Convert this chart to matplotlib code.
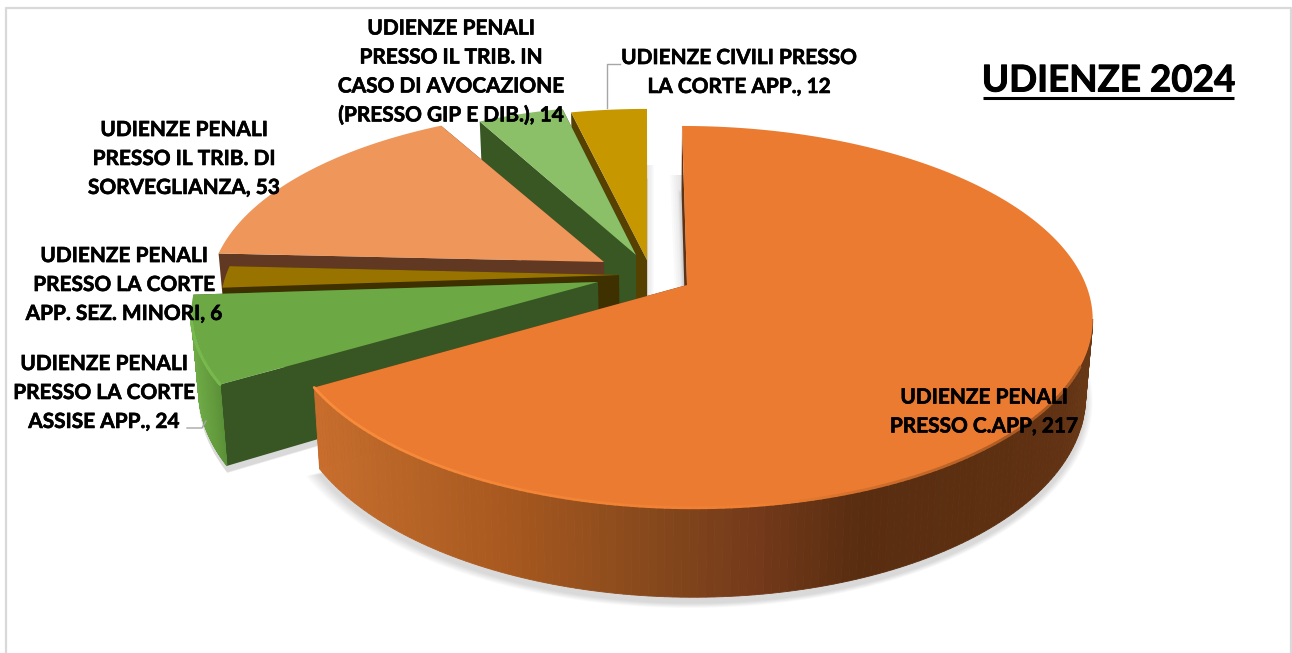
import numpy as np
import matplotlib
matplotlib.use("Agg")
import matplotlib.pyplot as plt
import matplotlib.patheffects as pe
from matplotlib.collections import LineCollection
from matplotlib.colors import to_rgb

# ---- data ----
categories = ["UDIENZE PENALI\nPRESSO C.APP",
              "UDIENZE PENALI\nPRESSO LA CORTE\nASSISE APP.",
              "UDIENZE PENALI\nPRESSO LA CORTE\nAPP. SEZ. MINORI",
              "UDIENZE PENALI\nPRESSO IL TRIB. DI\nSORVEGLIANZA",
              "UDIENZE PENALI\nPRESSO IL TRIB. IN\nCASO DI AVOCAZIONE\n(PRESSO GIP E DIB.)",
              "UDIENZE CIVILI PRESSO\nLA CORTE APP."]
values = [217, 24, 6, 53, 14, 12]
title = "UDIENZE 2024"

# ---- layout / style ----
apex_x = [687, 598, 619, 604, 636, 647]
apex_y = [285, 282, 275, 262, 255, 260]
scale_x = [0.995, 1.0, 0.98, 0.97, 0.93, 0.96]
scale_y = [1.0, 1.0, 1.0, 0.96, 0.94, 0.95]
shear = [5.8, 0, 0, 0, 0, 0]
top_col = ["#EB7B30", "#6CA944", "#997300", "#EF965A", "#8BBF68", "#C79700"]
cut_col = ["#5E3214", "#375623", "#3F3000", "#613923", "#385723", "#574100"]
label_cx = [984, 104, 124, 184, 451, 739]
label_cy = [412, 393, 285, 159, 72, 72.5]
A, B, K, DEPTH = 401.0, 185.6, 0.167, 74.5
VANISH_X, TAPER = 650.0, 0.016
ORANGE_RIM = [(313, "#C96E2D"), (351, "#C06A2B"), (504, "#A8591F"), (657, "#85481C"),
              (759, "#73391A"), (861, "#592D10"), (963, "#5C2F11"), (1065, "#613213"), (1095, "#6A3A18")]
GREEN_RIM = [(190, "#6FAC47"), (212, "#62993C"), (232, "#4F8432")]

plt.rcParams["font.family"] = ["Lato", "DejaVu Sans"]
fig = plt.figure(figsize=(12.92, 6.53), dpi=100)
ax = fig.add_axes([0, 0, 1, 1])
ax.set_xlim(0, 1292)
ax.set_ylim(653, 0)
ax.axis("off")

# frame
ax.plot([6, 6, 1291, 1291], [653, 8, 8, 653], color="#D9D9D9", lw=1.6, zorder=1)

edges = np.concatenate([[0], np.cumsum(values)]) / np.sum(values) * 2 * np.pi


def project(i, th):
    u, v = np.sin(th), np.cos(th)
    w = 1 + K * v
    return (apex_x[i] + scale_x[i] * A * u / w - shear[i] * v / w,
            apex_y[i] - scale_y[i] * B * v / w,
            DEPTH / w)


def lower(x):
    return x + (VANISH_X - x) * TAPER


def ramp(stops, x):
    xs = [s[0] for s in stops]
    rgb = np.array([to_rgb(s[1]) for s in stops])
    return tuple(np.interp(x, xs, rgb[:, c]) for c in range(3))


n_slices = len(values)
# soft shadow
for i in range(n_slices):
    th = np.linspace(edges[i], edges[i + 1], 160)
    x, y, d = project(i, th)
    px = np.r_[apex_x[i], lower(x)]
    py = np.r_[apex_y[i] + DEPTH, y + d]
    cx, cy = px.mean(), py.mean()
    for s in range(10):
        f = 1 + 0.003 * s
        ax.fill(cx + (px - cx) * f, cy + (py - cy) * f + 6, color="#808080",
                alpha=0.03, lw=0, zorder=2)
# shadow falling in the gap between the first and the last slice
for s in range(1, 7):
    ax.fill([apex_x[0] - 2 * s, apex_x[0] - 5 - 2 * s, apex_x[0], apex_x[0]], [300, 175, 175, 300],
            color="#808080", alpha=0.035, lw=0, zorder=2)
    ax.fill([apex_x[5], apex_x[5], apex_x[5] + 1.2 * s, apex_x[5] + 1.2 * s], [300, 165, 165, 300],
            color="#808080", alpha=0.03, lw=0, zorder=2)

z = 3
for i in reversed(range(n_slices)):
    th = np.linspace(edges[i], edges[i + 1], 240)
    x, y, d = project(i, th)
    ax_, ay = apex_x[i], apex_y[i]
    xb = lower(x)
    # radial cut faces
    for k in (0, -1):
        ax.fill([ax_, x[k], xb[k], lower(ax_)], [ay, y[k], y[k] + d[k], ay + DEPTH],
                color=cut_col[i], lw=0, zorder=z)
    # outer rim (only the part turned towards the viewer)
    for k in range(len(th) - 1):
        if np.cos(th[k]) > -K:
            continue
        xm = 0.5 * (x[k] + x[k + 1])
        if i == 0:
            c = ramp(ORANGE_RIM, xm)
        elif i == 1:
            c = ramp(GREEN_RIM, xm)
        else:
            c = cut_col[i]
        ax.fill([x[k], x[k + 1], xb[k + 1], xb[k]],
                [y[k], y[k + 1], y[k + 1] + d[k + 1], y[k] + d[k]],
                color=c, lw=0.6, zorder=z)
    # top face
    ax.fill(np.r_[ax_, x], np.r_[ay, y], color=top_col[i], lw=0, zorder=z + 0.5)
    # bevel highlights along the rim
    if i in (0, 1):
        keep = (np.cos(th) < -0.4) if i == 0 else (np.cos(th) < -K)
        pts = np.column_stack([x[keep], y[keep]])
        segs = np.stack([pts[:-1], pts[1:]], axis=1)
        if i == 0:
            cols = []
            for xm in segs[:, :, 0].mean(axis=1):
                t = np.clip((xm - 313) / 420, 0, 1)
                g = np.clip((xm - 760) / 250, 0, 1)
                base = np.array(to_rgb("#F88C3C")) * (1 - t) + np.array(to_rgb("#EE7F33")) * t
                cols.append(tuple(base * (1 - 0.45 * g) + np.array(to_rgb("#5C2F11")) * 0.45 * g))
        else:
            cols = ["#78B84E"] * len(segs)
        ax.add_collection(LineCollection(segs, colors=cols, linewidths=2.0, zorder=z + 0.6,
                                         capstyle="round"))
    z += 1

# leader lines
ax.plot([620, 607, 607], [64, 64, 108], color="#A6A6A6", lw=1.0, zorder=20)
ax.plot([187, 202, 206], [428, 428, 421], color="#A6A6A6", lw=1.0, zorder=20)

# labels
heavy = [pe.withStroke(linewidth=0.45, foreground="black")]
for i in range(n_slices):
    ax.text(label_cx[i], label_cy[i], f"{categories[i]}, {values[i]}", ha="center", va="center",
            fontsize=15.0, fontweight="bold", color="black", linespacing=1.56, zorder=30,
            path_effects=heavy)

ax.text(1108.5, 81, title, ha="center", va="center", fontsize=26.5, fontweight="bold",
        color="black", zorder=30, path_effects=[pe.withStroke(linewidth=0.7, foreground="black")])
ax.plot([983, 1234], [98, 98], color="black", lw=2.2, solid_capstyle="butt", zorder=30)

fig.savefig("out.png", dpi=100)
